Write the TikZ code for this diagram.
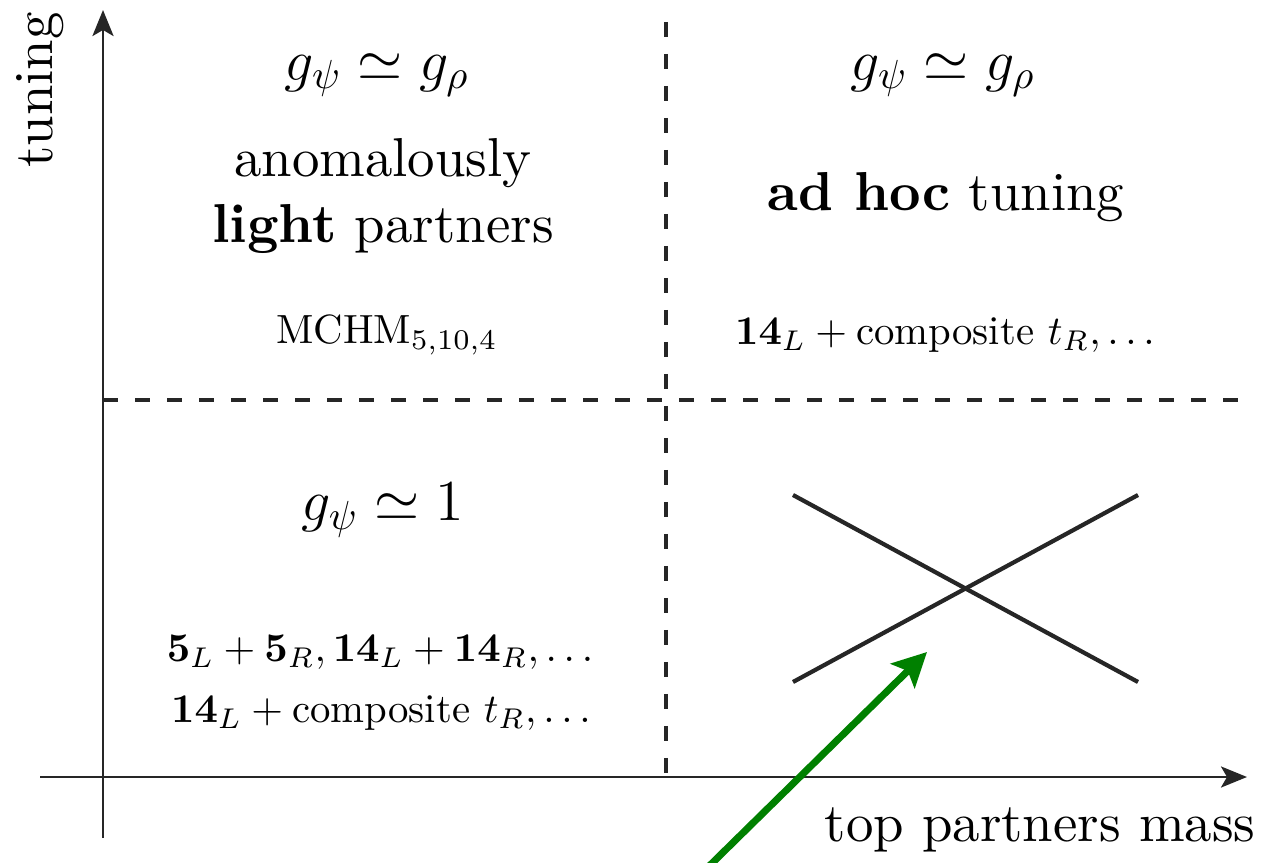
\documentclass[tikz,border=0pt]{standalone}
\usepackage{fix-cm}
\usepackage{amsmath}
\usepackage{graphicx}
\usepackage{xcolor}
\usepackage{tikz}
\usetikzlibrary{arrows.meta}

\newcommand{\bigtxt}[1]{\scalebox{1.56}{#1}}
\newcommand{\smalltxt}[1]{\scalebox{1.16}{#1}}

\begin{document}
\begin{tikzpicture}[
  x=0.1mm, y=-0.1mm,
  lbl/.style={align=center, inner sep=0pt, font=\fontsize{10}{12}\selectfont},
  mathlbl/.style={inner sep=0pt, font=\fontsize{16.5}{19.8}\selectfont},
  axis/.style={-{Stealth[length=2.6mm, width=2.1mm, inset=0.6mm]}, line width=0.85pt, draw=black!85},
  sep/.style={dash pattern=on 1.5mm off 1.7mm, line width=1pt, draw=black!85},
  cross/.style={line width=1.2pt, draw=black!85},
  hint/.style={-{Stealth[length=3.4mm, width=3.4mm, inset=0.7mm]}, line width=2pt, draw=green!50!black}
]
\useasboundingbox (0,0) rectangle (1261,863);
\clip (0,0) rectangle (1261,863);

% axes
\coordinate (xstart) at (40,777);
\coordinate (xend) at (1247,777);
\coordinate (ystart) at (103,838);
\coordinate (yend) at (103,10);
\draw[axis] (xstart) -- (xend);
\draw[axis] (ystart) -- (yend);

% quadrant borders
\coordinate (hleft) at (103,400);
\coordinate (hright) at (1242,400);
\coordinate (vtop) at (666,22);
\coordinate (vbot) at (666,777);
\draw[sep] (hleft) -- (hright);
\draw[sep] (vtop) -- (vbot);

% upper left
\node[mathlbl] (gtl) at (377,75) {$g_\psi \simeq g_\rho$};
\node[lbl] (light) at (383,196) {\bigtxt{\begin{tabular}{@{}c@{}}anomalously\\\textbf{light} partners\end{tabular}}};
\node[lbl] (mchm) at (387,335) {\smalltxt{MCHM$_{5,10,4}$}};

% upper right
\node[mathlbl] (gtr) at (943,75) {$g_\psi \simeq g_\rho$};
\node[lbl] (adhoc) at (946,197) {\bigtxt{\textbf{ad hoc} tuning}};
\node[lbl] (comptr) at (945,335) {\smalltxt{$\mathbf{14}_L+{}$composite $t_R,\ldots$}};

% lower left
\node[mathlbl] (gone) at (383,510) {$g_\psi \simeq 1$};
\node[lbl] (reps) at (380,652) {\smalltxt{$\mathbf{5}_L+\mathbf{5}_R,\mathbf{14}_L+\mathbf{14}_R,\ldots$}};
\node[lbl] (compbl) at (381,713) {\smalltxt{$\mathbf{14}_L+{}$composite $t_R,\ldots$}};

% lower right: excluded
\coordinate (ctl) at (793,495);
\coordinate (ctr) at (1138,495);
\coordinate (cbl) at (793,682);
\coordinate (cbr) at (1138,682);
\draw[cross] (ctl) -- (cbr);
\draw[cross] (cbl) -- (ctr);

% axis labels
\node[lbl] (xlab) at (1040,830) {\bigtxt{top partners mass}};
\node[lbl, rotate=90] (ylab) at (40,90) {\bigtxt{tuning}};

% pointer
\coordinate (hstart) at (700,875);
\coordinate (hend) at (927,652);
\draw[hint] (hstart) -- (hend);
\end{tikzpicture}
\end{document}
